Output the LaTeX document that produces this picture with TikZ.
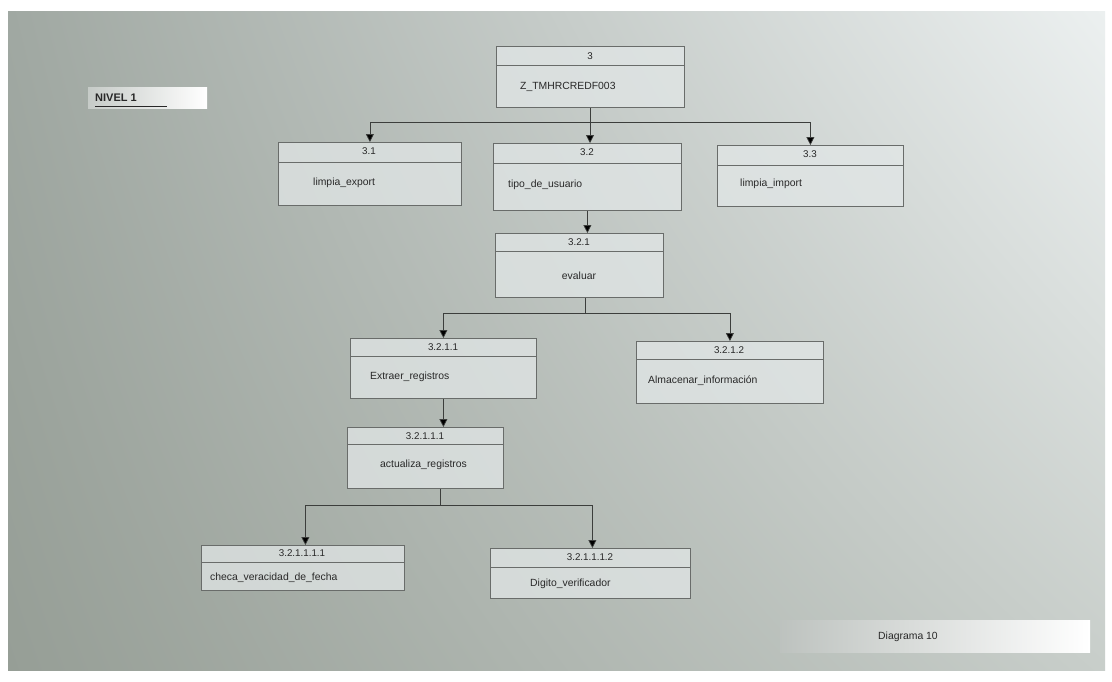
\documentclass[tikz,border=0pt]{standalone}
\usepackage{fontspec}
\setmainfont{Liberation Sans}
\usetikzlibrary{arrows.meta,shadings}
\definecolor{bgA}{RGB}{160,168,162}
\definecolor{bgB}{RGB}{236,240,240}
\definecolor{bgC}{RGB}{150,158,150}
\definecolor{bgD}{RGB}{200,206,202}
\definecolor{boxfill}{RGB}{226,231,231}
\definecolor{boxline}{RGB}{105,108,106}
\definecolor{wire}{RGB}{60,62,60}
\definecolor{ink}{RGB}{40,40,40}
\tikzset{
  procbox/.style={draw=boxline, line width=0.8pt, fill=boxfill, fill opacity=0.75,
    anchor=north west, inner sep=0pt},
  divline/.style={draw=boxline, line width=0.6pt},
  numtext/.style={font=\fontsize{9.8}{11}\selectfont, text=ink, inner sep=0pt},
  nametext/.style={font=\fontsize{10.4}{12}\selectfont, text=ink, inner sep=0pt, anchor=west},
  link/.style={draw=wire, line width=0.7pt},
  arrowlink/.style={link, -{Triangle[width=8pt,length=8pt,fill=black]}},
}
\begin{document}
\begin{tikzpicture}[x=1pt,y=-1pt]
\useasboundingbox (0,0) rectangle (1112,681);
\fill[white] (0,0) rectangle (1112,681);
% shaded sheet
\shade[upper left=bgA, upper right=bgB, lower left=bgC, lower right=bgD]
  (8,11) rectangle (1105,670);

% level label
\shade[left color=bgA!60!white, right color=white] (88,87) rectangle (207,108);
\node[font=\fontsize{11}{12}\selectfont\bfseries, text=ink, anchor=west, inner sep=0pt]
  (nivel) at (95,98) {NIVEL 1};
\draw[ink, line width=0.8pt] (nivel.south west |- 0,106) -- (167,106);

% footer label
\shade[left color=bgD!85!gray, right color=white] (780,620) rectangle (1090,652);
\node[numtext, font=\fontsize{10.4}{12}\selectfont] (diag) at (908,637) {Diagrama 10};

% boxes: name, top-left corner, size, divider height
\newcommand{\procbox}[6]{%
  \node[procbox, minimum width=#4pt, minimum height=#5pt] (#1) at (#2,#3) {};
  \draw[divline] ([yshift=-#6pt]#1.north west) -- ([yshift=-#6pt]#1.north east);
}
\procbox{b3}{496}{46}{188}{61}{19}
\procbox{b31}{278}{142}{183}{63}{20}
\procbox{b32}{493}{143}{188}{67}{20}
\procbox{b33}{717}{145}{186}{61}{20}
\procbox{b321}{495}{233}{168}{64}{18}
\procbox{b3211}{350}{338}{186}{60}{18}
\procbox{b3212}{636}{341}{187}{62}{18}
\procbox{b32111}{347}{427}{156}{61}{17}
\procbox{b321111}{201}{545}{203}{45}{17}
\procbox{b321112}{490}{548}{200}{50}{19}

% numbers
\node[numtext] (n3) at (590,56) {3};
\node[numtext] (n31) at (369,151) {3.1};
\node[numtext] (n32) at (587,152) {3.2};
\node[numtext] (n33) at (810,154) {3.3};
\node[numtext] (n321) at (579,242) {3.2.1};
\node[numtext] (n3211) at (443,347) {3.2.1.1};
\node[numtext] (n3212) at (729,350) {3.2.1.2};
\node[numtext] (n32111) at (425,436) {3.2.1.1.1};
\node[numtext] (n321111) at (302,553) {3.2.1.1.1.1};
\node[numtext] (n321112) at (590,557) {3.2.1.1.1.2};

% names
\node[nametext] (t3) at (520,87) {Z\_TMHRCREDF003};
\node[nametext] (t31) at (313,183) {limpia\_export};
\node[nametext] (t32) at (508,185) {tipo\_de\_usuario};
\node[nametext] (t33) at (740,184) {limpia\_import};
\node[nametext, anchor=center] (t321) at (579,276) {evaluar};
\node[nametext] (t3211) at (370,377) {Extraer\_registros};
\node[nametext] (t3212) at (648,381) {Almacenar\_información};
\node[nametext] (t32111) at (380,465) {actualiza\_registros};
\node[nametext] (t321111) at (210,578) {checa\_veracidad\_de\_fecha};
\node[nametext] (t321112) at (530,584) {Digito\_verificador};

% connectors
\coordinate (j1) at (590,122);
\draw[link] (b3.south -| j1) -- (j1);
\draw[arrowlink] (j1) -| (b31.north);
\draw[arrowlink] (j1) -| (b33.north);
\draw[arrowlink] (b3.south -| j1) -- (j1 |- b32.north);

\draw[arrowlink] (b32.south) -- (b32.south |- b321.north);

\coordinate (j2) at (585,313);
\draw[link] (j2 |- b321.south) -- (j2);
\draw[arrowlink] (j2) -| (b3211.north);
\draw[arrowlink] (j2) -| (b3212.north);

\draw[arrowlink] (b3211.south) -- (b3211.south |- b32111.north);

\coordinate (j3) at (440,505);
\draw[link] (j3 |- b32111.south) -- (j3);
\draw[arrowlink] (j3) -| ([xshift=2.5pt]b321111.north);
\draw[arrowlink] (j3) -| ([xshift=2pt]b321112.north);
\end{tikzpicture}
\end{document}
